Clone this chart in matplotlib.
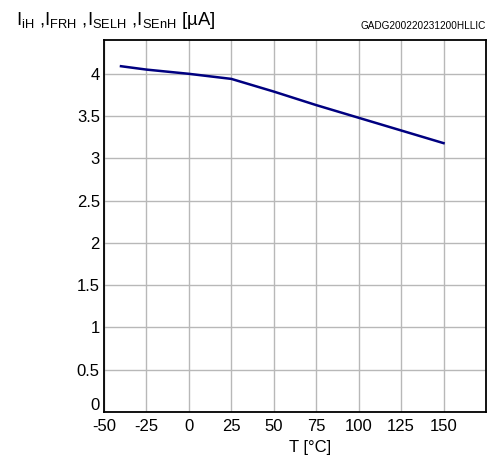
import matplotlib.pyplot as plt
from matplotlib.transforms import ScaledTranslation

plt.rcParams['font.family'] = ['Liberation Sans', 'DejaVu Sans']
plt.rcParams['mathtext.fontset'] = 'custom'
plt.rcParams['mathtext.rm'] = 'Liberation Sans'
plt.rcParams['mathtext.it'] = 'Liberation Sans'
plt.rcParams['axes.unicode_minus'] = False

# Supply current vs. junction temperature
temp_c = [-40, -25, 0, 25, 50, 75, 100, 125, 150]
current_ua = [4.09, 4.05, 4.0, 3.94, 3.79, 3.63, 3.48, 3.33, 3.18]

x_ticks = [-50, -25, 0, 25, 50, 75, 100, 125, 150]
y_ticks = [0, 0.5, 1, 1.5, 2, 2.5, 3, 3.5, 4]
y_tick_labels = ['0', '0.5', '1', '1.5', '2', '2.5', '3', '3.5', '4']

fig = plt.figure(figsize=(4.89, 4.61), dpi=100)
ax = fig.add_axes([104 / 489, 1 - 412 / 461, 382 / 489, 372 / 461])

ax.plot(temp_c, current_ua, color='#000080', linewidth=1.8, zorder=3)

ax.set_xlim(-50, 175)
ax.set_ylim(0, 4.4)
ax.set_xticks(x_ticks)
ax.set_yticks(y_ticks)
ax.set_yticklabels(y_tick_labels)
ax.tick_params(length=0, labelsize=12, pad=3)
ax.tick_params(axis='x', pad=5)
ax.grid(True, color='#b8b8b8', linewidth=1.0)
for s in ax.spines.values():
    s.set_linewidth(1.3)

# lift the bottom "0" so it clears the x labels
zero_lbl = ax.get_yticklabels()[0]
zero_lbl.set_transform(zero_lbl.get_transform() + ScaledTranslation(0, 6 / 72, fig.dpi_scale_trans))

fig.text(310 / 489, 1 - 447 / 461, 'T [°C]', fontsize=12, ha='center', va='center')

fig.text(16 / 489, 1 - 25 / 461,
         r'I$_{\mathrm{iH}}$ ,I$_{\mathrm{FRH}}$ ,I$_{\mathrm{SELH}}$ ,I$_{\mathrm{SEnH}}$ [µA]',
         fontsize=13.3, ha='left', va='baseline')
fig.text(486 / 489, 1 - 29 / 461, 'GADG200220231200HLLIC',
         fontsize=7.2, ha='right', va='baseline')

fig.savefig('out.png', dpi=100)
